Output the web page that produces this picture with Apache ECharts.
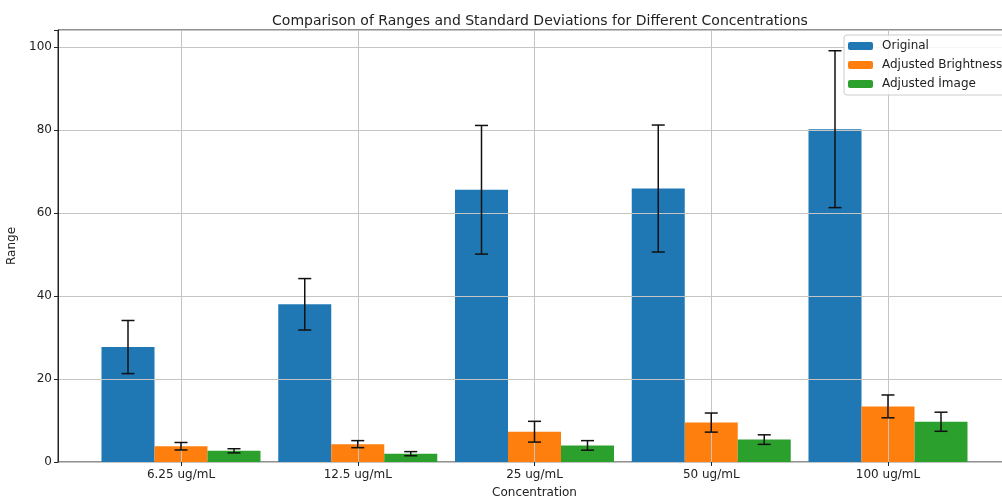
<!DOCTYPE html>
<html>
<head>
<meta charset="utf-8">
<script src="https://cdn.jsdelivr.net/npm/echarts@6/dist/echarts.min.js"></script>
<style>
html,body{margin:0;padding:0;background:#fff;}
#chart{width:1002px;height:497px;}
</style>
</head>
<body>
<div id="chart"></div>
<script>
const categories = ['6.25 ug/mL', '12.5 ug/mL', '25 ug/mL', '50 ug/mL', '100 ug/mL'];
const seriesNames = ['Original', 'Adjusted Brightness', 'Adjusted \u0130mage'];
const originalValues = [27.7, 38.0, 65.6, 65.9, 80.2];
const originalStd = [6.4, 6.2, 15.5, 15.3, 18.9];
const brightnessValues = [3.8, 4.3, 7.3, 9.5, 13.4];
const brightnessStd = [0.9, 0.85, 2.5, 2.3, 2.75];
const imageValues = [2.7, 2.0, 4.0, 5.4, 9.7];
const imageStd = [0.5, 0.5, 1.15, 1.15, 2.3];
const yTicks = [0, 20, 40, 60, 80, 100];

const colors = ['#1f77b4', '#ff7f0e', '#2ca02c'];
const values = [originalValues, brightnessValues, imageValues];
const stds = [originalStd, brightnessStd, imageStd];

const BAR_W = 53;
const offsets = [-BAR_W, 0, BAR_W];
const Y_MAX = 104.1;
const FONT = 'DejaVu Sans';

const chart = echarts.init(document.getElementById('chart'), null, {renderer: 'canvas'});

const series = [];
values.forEach((vals, i) => {
  series.push({
    name: seriesNames[i],
    type: 'bar',
    xAxisIndex: 1,
    yAxisIndex: 1,
    data: vals,
    barWidth: BAR_W,
    barGap: '0%',
    clip: false,
    z: 1,
    itemStyle: {color: colors[i]},
    emphasis: {disabled: true}
  });
});
values.forEach((vals, i) => {
  series.push({
    name: 'err' + i,
    type: 'custom',
    xAxisIndex: 1,
    yAxisIndex: 1,
    clip: false,
    z: 3,
    data: vals.map((v, k) => [k, v - stds[i][k], v + stds[i][k]]),
    encode: {x: 0, y: [1, 2]},
    renderItem: function (params, api) {
      const lo = api.coord([api.value(0), api.value(1)]);
      const hi = api.coord([api.value(0), api.value(2)]);
      const x = lo[0] + offsets[i];
      const cap = 6.5;
      const st = {stroke: '#111', lineWidth: 1.5};
      return {
        type: 'group',
        children: [
          {type: 'line', shape: {x1: x, y1: lo[1], x2: x, y2: hi[1]}, style: st},
          {type: 'line', shape: {x1: x - cap, y1: lo[1], x2: x + cap, y2: lo[1]}, style: st},
          {type: 'line', shape: {x1: x - cap, y1: hi[1], x2: x + cap, y2: hi[1]}, style: st}
        ]
      };
    }
  });
});

const option = {
  animation: false,
  backgroundColor: '#fff',
  textStyle: {fontFamily: FONT},
  title: {
    text: 'Comparison of Ranges and Standard Deviations for Different Concentrations',
    left: 535, top: 9, textAlign: 'center',
    textStyle: {fontFamily: FONT, fontSize: 14, fontWeight: 'normal', color: '#222'}
  },
  legend: {
    data: seriesNames,
    orient: 'vertical',
    left: 844, top: 35,
    itemWidth: 25, itemHeight: 8, itemGap: 7,
    padding: [5, 6, 5, 4],
    backgroundColor: 'rgba(255,255,255,0.85)',
    borderColor: '#cccccc', borderWidth: 1, borderRadius: 3,
    z: 20,
    textStyle: {fontFamily: FONT, fontSize: 12, color: '#222', padding: [0, 0, 0, 4]},
    selectedMode: false
  },
  grid: [
    {left: 58, top: 30, width: 953, height: 432, show: true, borderColor: '#222', borderWidth: 1, backgroundColor: 'transparent', z: 0, containLabel: false, outerBoundsMode: 'none'},
    {left: 181, top: 30, width: 707, height: 432, show: false, containLabel: false, outerBoundsMode: 'none'}
  ],
  xAxis: [
    {
      gridIndex: 0, type: 'value', min: 0, max: 1,
      axisLine: {show: true, lineStyle: {color: '#222', width: 1}},
      axisTick: {show: false}, axisLabel: {show: false}, splitLine: {show: false}
    },
    {
      gridIndex: 1, type: 'category', data: categories, boundaryGap: false,
      z: 2,
      axisLine: {show: false},
      axisTick: {show: true, length: 4, lineStyle: {color: '#222'}},
      axisLabel: {fontFamily: FONT, fontSize: 12, color: '#222', margin: 7},
      splitLine: {show: true, lineStyle: {color: '#c4c4c4', width: 1}},
      name: 'Concentration', nameLocation: 'middle', nameGap: 25,
      nameTextStyle: {fontFamily: FONT, fontSize: 12, color: '#222'}
    }
  ],
  yAxis: [
    {
      gridIndex: 0, type: 'value', min: 0, max: Y_MAX, interval: 20,
      z: 2,
      axisLine: {show: true, lineStyle: {color: '#222'}},
      axisTick: {show: true, length: 4, lineStyle: {color: '#222'}},
      axisLabel: {fontFamily: FONT, fontSize: 12, color: '#222', margin: 6,
        formatter: v => (yTicks.indexOf(v) >= 0 ? String(v) : '')},
      splitLine: {show: true, lineStyle: {color: '#c4c4c4', width: 1}},
      name: 'Range', nameLocation: 'middle', nameGap: 33,
      nameTextStyle: {fontFamily: FONT, fontSize: 12, color: '#222'}
    },
    {
      gridIndex: 1, type: 'value', min: 0, max: Y_MAX, show: false
    }
  ],
  series: series
};
chart.setOption(option);
</script>
</body>
</html>
